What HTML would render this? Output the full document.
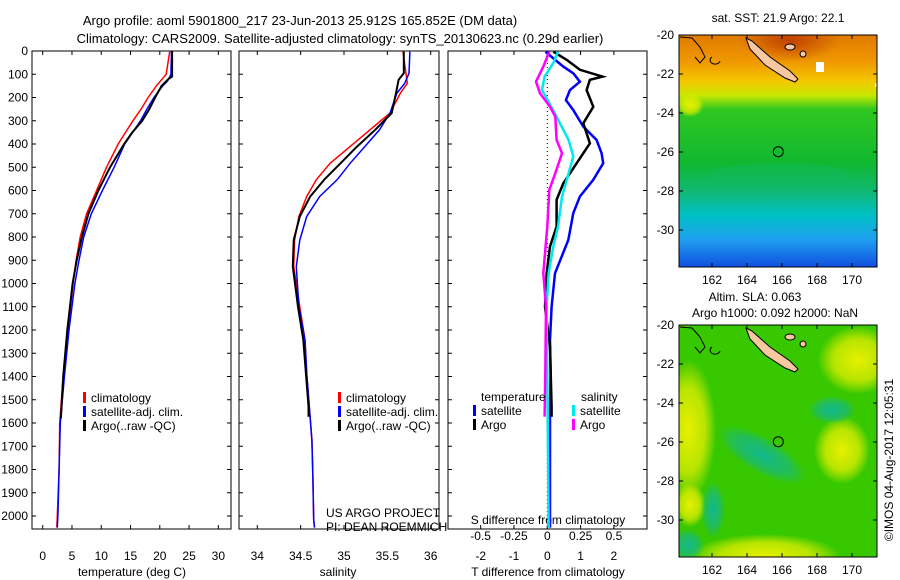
<!DOCTYPE html>
<html><head><meta charset="utf-8"><style>
html,body{margin:0;padding:0;background:#fff;}
svg{display:block;font-family:"Liberation Sans",sans-serif;}
text{font-size:12px;fill:#000;}
</style></head><body>
<svg id="fig" width="900" height="580" viewBox="0 0 900 580">
<defs>
<linearGradient id="sstg" x1="0" y1="0" x2="0" y2="1">
<stop offset="0" stop-color="#e07a00"/><stop offset="0.12" stop-color="#f09a00"/><stop offset="0.2" stop-color="#f4c800"/>
<stop offset="0.26" stop-color="#c8e800"/><stop offset="0.32" stop-color="#30c820"/><stop offset="0.55" stop-color="#10b830"/>
<stop offset="0.68" stop-color="#10b878"/><stop offset="0.78" stop-color="#00c0c8"/><stop offset="0.88" stop-color="#20a0f0"/><stop offset="1" stop-color="#1050e0"/>
</linearGradient>
<radialGradient id="hot"><stop offset="0" stop-color="#c04000"/><stop offset="1" stop-color="#c04000" stop-opacity="0"/></radialGradient>
<radialGradient id="yel"><stop offset="0" stop-color="#e8f000"/><stop offset="0.6" stop-color="#d8ec00" stop-opacity="0.8"/><stop offset="1" stop-color="#e8f000" stop-opacity="0"/></radialGradient>
<radialGradient id="teal"><stop offset="0" stop-color="#10b890"/><stop offset="0.6" stop-color="#18b880" stop-opacity="0.7"/><stop offset="1" stop-color="#10b890" stop-opacity="0"/></radialGradient>
<clipPath id="m1c"><rect x="679" y="35" width="198" height="232"/></clipPath>
<clipPath id="m2c"><rect x="679" y="325" width="198" height="232"/></clipPath>
</defs>
<text x="300" y="25" text-anchor="middle" style="font-size:13px">Argo profile: aoml 5901800_217 23-Jun-2013 25.912S 165.852E (DM data)</text>
<text x="340" y="43" text-anchor="middle" style="font-size:13px">Climatology: CARS2009. Satellite-adjusted climatology: synTS_20130623.nc (0.29d earlier)</text>
<g id="g1"></g>
<g id="g2"></g>
<g id="g3"></g>
<g>
<g clip-path="url(#m1c)">
<rect x="679" y="35" width="198" height="232" fill="url(#sstg)"/>
<ellipse cx="790" cy="40" rx="50" ry="22" fill="url(#hot)"/>
<ellipse cx="690" cy="105" rx="14" ry="12" fill="url(#yel)"/>
<ellipse cx="780" cy="175" rx="70" ry="12" fill="#10b860" opacity="0.35"/>
<rect x="816" y="62" width="8" height="10" fill="#fff"/><rect x="875" y="83" width="3" height="4" fill="#fff"/>
</g>
<rect x="679" y="35" width="198" height="232" fill="none" stroke="#000"/>
<text x="778" y="22" text-anchor="middle">sat. SST: 21.9 Argo: 22.1</text>
</g>
<g>
<g clip-path="url(#m2c)">
<rect x="679" y="325" width="198" height="232" fill="#38c800"/>
<ellipse cx="688" cy="430" rx="28" ry="70" fill="url(#yel)"/>
<ellipse cx="858" cy="360" rx="40" ry="34" fill="url(#yel)"/>
<ellipse cx="842" cy="450" rx="28" ry="34" fill="url(#yel)"/>
<ellipse cx="765" cy="556" rx="75" ry="22" fill="url(#yel)"/>
<ellipse cx="690" cy="505" rx="16" ry="22" fill="url(#yel)"/>
<ellipse cx="762" cy="455" rx="50" ry="18" fill="url(#teal)" transform="rotate(30 762 455)"/>
<ellipse cx="713" cy="510" rx="12" ry="28" fill="url(#teal)"/>
<ellipse cx="832" cy="410" rx="24" ry="14" fill="url(#teal)"/>
<ellipse cx="688" cy="545" rx="16" ry="16" fill="url(#teal)"/>
</g>
<rect x="679" y="325" width="198" height="232" fill="none" stroke="#000"/>
<text x="755" y="301" text-anchor="middle">Altim. SLA: 0.063</text>
<text x="775" y="317" text-anchor="middle">Argo h1000: 0.092 h2000: NaN</text>
</g>
<g id="maps"></g>
<text transform="translate(893,460) rotate(-90)" text-anchor="middle">©IMOS 04-Aug-2017 12:05:31</text>
</svg>
<script>
// ---- data ----
const depthTicks=[0,100,200,300,400,500,600,700,800,900,1000,1100,1200,1300,1400,1500,1600,1700,1800,1900,2000];
const tempTicks=[0,5,10,15,20,25,30];
const salTicks=[34,34.5,35,35.5,36];
const tdiffTicks=[-2,-1,0,1,2];
const sdiffTicks=[-0.5,-0.25,0,0.25,0.5];
const sdiffLabels=["-0.5","-0.25","0","0.25","0.5"];
const climDepth=[0,100,150,200,250,300,400,500,600,700,800,900,1000,1200,1400,1600,1800,2000,2050];
const climTemp=[21.7,21.1,19.4,18.0,16.8,15.4,12.9,10.9,9.2,7.5,6.4,5.7,5.2,4.3,3.5,2.9,2.8,2.5,2.4];
const satTempDepth=[0,100,130,150,200,250,300,400,500,600,700,800,900,1000,1200,1400,1600,1800,2000,2050];
const satTemp=[22.0,21.9,21.3,20.5,19.0,17.8,16.7,14.0,12.2,10.2,8.3,7.0,6.2,5.5,4.5,3.7,3.0,2.8,2.6,2.5];
const argoTDepth=[0,110,120,150,200,250,300,350,400,500,600,700,800,900,1000,1200,1400,1580];
const argoTemp=[22.1,22.1,21.5,20.3,19.2,18.2,17.0,15.3,13.9,11.5,9.5,7.8,6.7,5.8,5.1,4.2,3.5,3.1];
const climSalDepth=[3,139,181,267,339,411,483,554,626,712,813,927,1100,1243,1386,1530,1673,1817,2017,2050];
const climSal=[35.68,35.73,35.65,35.53,35.30,35.07,34.84,34.68,34.57,34.48,34.43,34.42,34.49,34.55,34.57,34.60,34.63,34.64,34.65,34.66];
const satSalDepth=[3,96,139,181,267,339,411,483,554,626,712,813,927,1100,1243,1386,1530,1673,1817,2017,2050];
const satSal=[35.76,35.75,35.70,35.61,35.53,35.41,35.24,35.07,34.92,34.72,34.57,34.49,34.45,34.48,34.55,34.57,34.60,34.63,34.64,34.65,34.66];
const argoSalDepth=[3,96,124,181,267,339,411,483,554,626,712,813,927,1100,1243,1386,1530,1573];
const argoSal=[35.69,35.69,35.63,35.60,35.55,35.36,35.15,34.96,34.77,34.61,34.49,34.42,34.41,34.47,34.53,34.56,34.59,34.59];
const tSatDiffDepth=[3,10,67,96,132,168,211,254,325,383,440,483,554,626,697,813,956,1100,1243,1386,1530,2017,2050];
const tSatDiff=[-0.05,0,0.48,0.78,0.98,0.68,0.56,0.78,1.08,1.48,1.63,1.68,1.38,0.98,0.78,0.63,0.23,0.13,0.08,0.1,0.08,0.08,0.08];
const tArgoDiffDepth=[3,38,81,110,124,168,240,311,397,483,569,640,755,841,956,1100,1272,1530,1573];
const tArgoDiff=[0.18,0.58,0.98,1.66,1.28,1.18,1.38,1.08,1.28,0.88,0.48,0.28,0.28,0.08,-0.02,-0.07,0.08,0.13,0.13];
const sSatDiffDepth=[3,52,110,168,240,311,383,454,526,626,755,841,956,1100,1386,2017,2050];
const sSatDiff=[0.08,0.045,-0.02,-0.04,0.03,0.095,0.16,0.195,0.16,0.11,0.08,0.045,0.01,-0.005,0,0.01,0.01];
const sArgoDiffDepth=[3,67,132,182,240,282,383,440,526,597,755,956,1100,1386,1573];
const sArgoDiff=[0.015,-0.03,-0.085,-0.055,0.02,0.06,0.07,0.11,0.06,0.015,0,-0.03,-0.01,-0.015,-0.02];
const latTicks=[-20,-22,-24,-26,-28,-30];
const lonTicks=[162,164,166,168,170];

// ---- scales ----
const TOP=51,BOT=529;
const yD=d=>TOP+d*0.2325;
const xT=t=>42.7+t*5.855;
const xS=s=>257.3+(s-34)*86.7;
const xTd=t=>547.3+t*33.3;
const xSd=s=>547.3+s*133.3;
const NS="http://www.w3.org/2000/svg";
function el(tag,attrs,parent,txt){const e=document.createElementNS(NS,tag);for(const k in attrs)e.setAttribute(k,attrs[k]);if(txt!==undefined)e.textContent=txt;parent.appendChild(e);return e;}
function line(g,xs,ys,xf,col,w,name){
  const pts=xs.map((v,i)=>xf(v).toFixed(1)+","+yD(ys[i]).toFixed(1)).join(" ");
  const p=el("polyline",{points:pts,fill:"none",stroke:col,"stroke-width":w},g);
  
  
}
function frame(g,x0,x1,name){
  const r=el("rect",{x:x0,y:TOP,width:x1-x0,height:BOT-TOP,fill:"none",stroke:"#000"},g);
  
  
  depthTicks.forEach(d=>{el("line",{x1:x0,x2:x0+4,y1:yD(d),y2:yD(d),stroke:"#000"},g);el("line",{x1:x1,x2:x1-4,y1:yD(d),y2:yD(d),stroke:"#000"},g);});
}
function xticks(g,ticks,xf,labels,ty,name){
  ticks.forEach((t,i)=>{const x=xf(t);el("line",{x1:x,x2:x,y1:TOP,y2:TOP+4,stroke:"#000"},g);el("line",{x1:x,x2:x,y1:BOT,y2:BOT-4,stroke:"#000"},g);
   const tx=el("text",{x:x,y:ty,"text-anchor":"middle"},g,labels?labels[i]:String(t));
   
   });
}
function legend(g,x,y,items){
  items.forEach((it,i)=>{el("rect",{x:x,y:y+i*14-10,width:3,height:11,fill:it[0]},g);
   const t=el("text",{x:x+8,y:y+i*14},g,it[1]);
   
   });
}
// panel 1
const g1=document.getElementById("g1");
frame(g1,32,231,"temperature-axes-frame");
depthTicks.forEach(d=>{const t=el("text",{x:28,y:yD(d)+4,"text-anchor":"end"},g1,String(d));
 
 });
xticks(g1,tempTicks,xT,null,560,"temperature-tick-label");
el("text",{x:132,y:576,"text-anchor":"middle"},g1,"temperature (deg C)");
line(g1,climTemp,climDepth,xT,"#ff0000",1.5,"climatology-temperature-line");
line(g1,satTemp,satTempDepth,xT,"#0000ff",1.5,"satellite-temperature-line");
line(g1,argoTemp,argoTDepth,xT,"#000",2,"argo-temperature-line");
legend(g1,83,402,[["#ff0000","climatology"],["#0000ff","satellite-adj. clim."],["#000","Argo(..raw -QC)"]]);
// panel 2
const g2=document.getElementById("g2");
frame(g2,239,439,"salinity-axes-frame");
xticks(g2,salTicks,xS,null,560,"salinity-tick-label");
el("text",{x:338,y:576,"text-anchor":"middle"},g2,"salinity");
line(g2,climSal,climSalDepth,xS,"#ff0000",1.5,"climatology-salinity-line");
line(g2,satSal,satSalDepth,xS,"#0000ff",1.5,"satellite-salinity-line");
line(g2,argoSal,argoSalDepth,xS,"#000",2,"argo-salinity-line");
legend(g2,338,402,[["#ff0000","climatology"],["#0000ff","satellite-adj. clim."],["#000","Argo(..raw -QC)"]]);
el("text",{x:326,y:517},g2,"US ARGO PROJECT");
el("text",{x:326,y:531},g2,"PI: DEAN ROEMMICH");
// panel 3
const g3=document.getElementById("g3");
frame(g3,448,647,"difference-axes-frame");
xticks(g3,tdiffTicks,xTd,null,560,"t-diff-tick-label");
sdiffTicks.forEach((s,i)=>{const t=el("text",{x:xSd(s),y:540,"text-anchor":"middle"},g3,sdiffLabels[i]);
 
 });
el("text",{x:548,y:524,"text-anchor":"middle"},g3,"S difference from climatology");
el("text",{x:548,y:576,"text-anchor":"middle"},g3,"T difference from climatology");
el("line",{x1:xTd(0),x2:xTd(0),y1:TOP,y2:BOT,stroke:"#000","stroke-dasharray":"1,3"},g3);
line(g3,tSatDiff,tSatDiffDepth,xTd,"#0000ff",2.5,"t-satellite-diff-line");
line(g3,tArgoDiff,tArgoDiffDepth,xTd,"#000",2.5,"t-argo-diff-line");
line(g3,sSatDiff,sSatDiffDepth,xSd,"#00e8f0",2.5,"s-satellite-diff-line");
line(g3,sArgoDiff,sArgoDiffDepth,xSd,"#ff00ff",2.5,"s-argo-diff-line");
el("text",{x:481,y:401},g3,"temperature");
el("text",{x:581,y:401},g3,"salinity");
legend(g3,473,415,[["#0000ff","satellite"],["#000","Argo"]]);
legend(g3,572,415,[["#00e8f0","satellite"],["#ff00ff","Argo"]]);
// maps
const gm=document.getElementById("maps");
const latY=(l,y0)=>y0+(-20-l)*19.5;
const lonX=l=>712+(l-162)*17.5;
[35,325].forEach((y0,mi)=>{
  latTicks.forEach(l=>{const y=latY(l,y0);el("line",{x1:679,x2:683,y1:y,y2:y,stroke:"#000"},gm);el("line",{x1:877,x2:873,y1:y,y2:y,stroke:"#000"},gm);
   const t=el("text",{x:674,y:y+4,"text-anchor":"end"},gm,String(l));
   
   });
  lonTicks.forEach(l=>{const x=lonX(l);el("line",{x1:x,x2:x,y1:y0,y2:y0+4,stroke:"#000"},gm);el("line",{x1:x,x2:x,y1:y0+232,y2:y0+228,stroke:"#000"},gm);
   const t=el("text",{x:x,y:y0+249,"text-anchor":"middle"},gm,String(l));
   
   });
  const isl=el("path",{d:`M746,${y0+3} L752,${y0+6} L770,${y0+22} L790,${y0+36} L798,${y0+44} L795,${y0+47} L785,${y0+43} L765,${y0+30} L750,${y0+14} Z`,fill:"#f8c8a0",stroke:"#000","stroke-width":1},gm);
  
  
  el("path",{d:`M680,${y0+2} L692,${y0+3} L700,${y0+12} L705,${y0+22} L700,${y0+28} L695,${y0+22} M712,${y0+22} a5,4 0 1,0 8,4`,fill:"none",stroke:"#000","stroke-width":1},gm);
  el("ellipse",{cx:790,cy:y0+12,rx:5,ry:3,fill:"#f8c8a0",stroke:"#000"},gm);
  el("ellipse",{cx:803,cy:y0+19,rx:3,ry:3,fill:"#f8c8a0",stroke:"#000"},gm);
  const c=el("circle",{cx:778.3,cy:y0+116.7,r:5,fill:"none",stroke:"#000"},gm);
  
  
});
</script>
</body></html>
